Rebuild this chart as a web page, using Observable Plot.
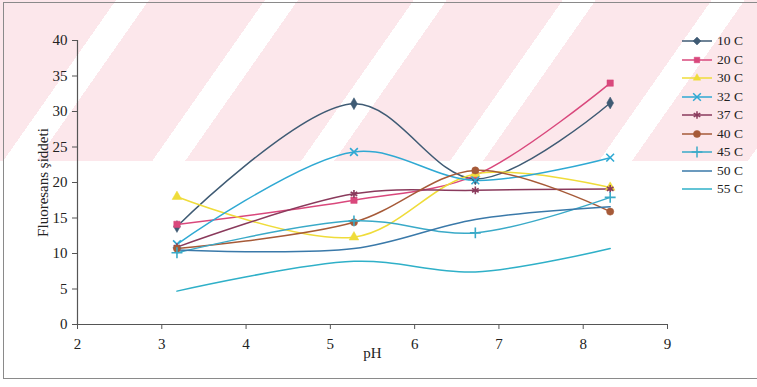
<!DOCTYPE html>
<html>
<head>
<meta charset="utf-8">
<script src="https://cdn.jsdelivr.net/npm/d3@7"></script>
<script src="https://cdn.jsdelivr.net/npm/@observablehq/plot@0.6"></script>
<style>
  html, body { margin: 0; padding: 0; background: #fff; }
  #wrap { position: relative; width: 757px; height: 387px; overflow: hidden; font-family: "Liberation Serif", serif; }
  #wm { position: absolute; left: 0; top: 0; width: 757px; height: 161px;
        background: repeating-linear-gradient(125deg, #fce7eb 0px, #fce7eb 95px, #ffffff 95px, #ffffff 122px); }
  #frame { position: absolute; left: 3px; top: 2px; width: 760px; height: 377px; border: 1.5px solid #8a8a8a; box-sizing: border-box; }
  #chart { position: absolute; left: 0; top: 0; }
  #legend { position: absolute; left: 680px; top: 32px; }
  .li { display: flex; align-items: center; height: 18.5px; font-size: 13.5px; color: #222; font-family: "Liberation Serif", serif; }
  .li svg { margin-right: 3px; }
</style>
</head>
<body>
<div id="wrap">
  <div id="wm"></div>
  <div id="frame"></div>
  <div id="chart"></div>
  <div id="legend"></div>
</div>
<script>
// pH values (x)
const ph = [3.18, 5.28, 6.72, 8.32];
// series names
const seriesNames = ["10 C", "20 C", "30 C", "32 C", "37 C", "40 C", "45 C", "50 C", "55 C"];
// fluorescence intensities per series
const v10 = [13.8, 31.1, 20.5, 31.2];
const v20 = [14.1, 17.5, 21.0, 34.0];
const v30 = [18.0, 12.3, 21.2, 19.3];
const v32 = [11.3, 24.3, 20.3, 23.5];
const v37 = [10.9, 18.4, 18.9, 19.1];
const v40 = [10.7, 14.4, 21.7, 15.9];
const v45 = [10.1, 14.6, 12.9, 17.9];
const v50 = [10.5, 10.7, 14.8, 16.6];
const v55 = [4.7, 8.9, 7.4, 10.7];
const xTicks = [2, 3, 4, 5, 6, 7, 8, 9];
const yTicks = [0, 5, 10, 15, 20, 25, 30, 35, 40];

const colors = ["#3f5b74", "#d9487c", "#efdc3a", "#2fa9d3", "#8a3a5c", "#a65a38", "#3aaac8", "#3a79a9", "#2fb0c8"];
const symbols = ["diamond", "square", "triangle", "times", "asterisk", "circle", "plus", null, null];
const filledSym = {diamond: true, square: true, triangle: true, circle: true};

const allVals = [v10, v20, v30, v32, v37, v40, v45, v50, v55];
const data = [];
seriesNames.forEach((s, i) => allVals[i].forEach((v, j) => data.push({series: s, ph: ph[j], val: v})));

const marks = [
  Plot.ruleY([0], {stroke: "#555", strokeWidth: 1.2}),
  Plot.ruleX([2], {stroke: "#555", strokeWidth: 1.2}),
  Plot.axisX({ticks: xTicks, tickFormat: d3.format("d"), tickSize: 5, tickPadding: 9, fontSize: 15, label: "pH", labelAnchor: "center", labelArrow: "none", labelOffset: 33, stroke: "#555"}),
  Plot.axisY({ticks: yTicks, tickFormat: d3.format("d"), tickSize: 5, tickPadding: 5, fontSize: 15, label: "Fluoresans şiddeti", labelAnchor: "center", labelArrow: "none", labelOffset: 40, stroke: "#555"}),
  Plot.line(data, {x: "ph", y: "val", z: "series", stroke: "series", strokeWidth: 1.5, curve: "catmull-rom"})
];
seriesNames.forEach((s, i) => {
  const sym = symbols[i];
  if (!sym) return;
  const filled = filledSym[sym];
  marks.push(Plot.dot(data.filter(d => d.series === s), {
    x: "ph", y: "val", symbol: () => sym, r: 3.6,
    fill: filled ? colors[i] : "none",
    stroke: colors[i], strokeWidth: filled ? 0.5 : 1.6
  }));
});

const chart = Plot.plot({
  width: 757, height: 387,
  marginLeft: 77, marginRight: 90, marginTop: 40, marginBottom: 63,
  style: {background: "transparent", fontFamily: "'Liberation Serif', serif", color: "#222"},
  x: {domain: [2, 9]},
  y: {domain: [0, 40]},
  color: {domain: seriesNames, range: colors},
  symbol: {type: "identity"},
  marks
});
document.getElementById("chart").appendChild(chart);

// legend
const leg = d3.select("#legend");
const symMap = {diamond: d3.symbolDiamond2, square: d3.symbolSquare2, triangle: d3.symbolTriangle2, times: d3.symbolTimes, asterisk: d3.symbolAsterisk, circle: d3.symbolCircle, plus: d3.symbolPlus};
seriesNames.forEach((s, i) => {
  const row = leg.append("div").attr("class", "li");
  const svg = row.append("svg").attr("width", 34).attr("height", 12);
  svg.append("line").attr("x1", 2).attr("x2", 32).attr("y1", 6).attr("y2", 6).attr("stroke", colors[i]).attr("stroke-width", 1.5);
  const sym = symbols[i];
  if (sym) {
    const filled = filledSym[sym];
    svg.append("path").attr("transform", "translate(17,6)")
      .attr("d", d3.symbol(symMap[sym], 40)())
      .attr("fill", filled ? colors[i] : "none")
      .attr("stroke", colors[i]).attr("stroke-width", filled ? 0.5 : 1.5);
  }
  row.append("span").text(s);
});
</script>
</body>
</html>
